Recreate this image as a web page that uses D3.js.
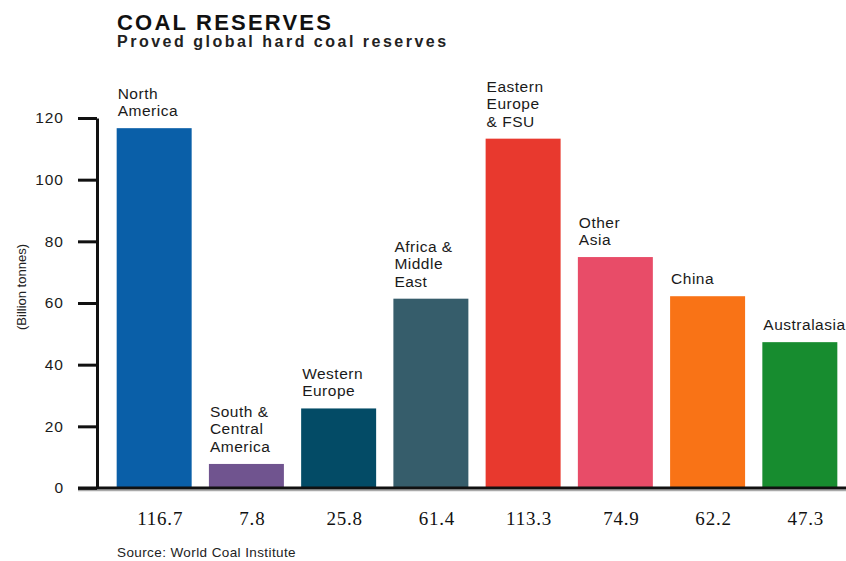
<!DOCTYPE html>
<html>
<head>
<meta charset="utf-8">
<script src="https://cdn.jsdelivr.net/npm/d3@7"></script>
<style>
  body { margin: 0; background: #fff; }
  svg text { font-family: "Liberation Sans", Arial, sans-serif; }
</style>
</head>
<body>
<div id="chart"></div>
<script>
// data
const categories = ["North\nAmerica", "South &\nCentral\nAmerica", "Western\nEurope",
    "Africa &\nMiddle\nEast", "Eastern\nEurope\n& FSU", "Other\nAsia", "China", "Australasia"];
const values = [116.7, 7.8, 25.8, 61.4, 113.3, 74.9, 62.2, 47.3];
const valueLabels = ["116.7", "7.8", "25.8", "61.4", "113.3", "74.9", "62.2", "47.3"];
const barColors = ["#0a5fa8", "#70548f", "#034b66", "#365d6b", "#e8392e", "#e84c68", "#f97316", "#178c2f"];
const yTicks = [0, 20, 40, 60, 80, 100, 120];

function drawChart() {
    const width = 846;
    const height = 561;

    const svg = d3.select("#chart")
        .append("svg")
        .attr("width", width)
        .attr("height", height);

    const x = d3.scaleBand()
        .domain(d3.range(categories.length))
        .range([108, 846])
        .paddingInner(0.187)
        .paddingOuter(0.094);

    const y = d3.scaleLinear()
        .domain([0, 120])
        .range([488, 118]);

    // titles
    svg.append("text")
        .attr("x", 117).attr("y", 30)
        .style("font-size", "22px").style("font-weight", "bold")
        .style("letter-spacing", "2.2px")
        .attr("fill", "#111")
        .text("COAL RESERVES");

    svg.append("text")
        .attr("x", 117).attr("y", 47)
        .style("font-size", "16px").style("font-weight", "bold")
        .style("letter-spacing", "2.5px")
        .attr("fill", "#222")
        .text("Proved global hard coal reserves");

    // bars
    svg.append("g")
        .selectAll("rect")
        .data(values)
        .join("rect")
        .attr("x", (d, i) => x(i))
        .attr("y", d => y(d))
        .attr("width", x.bandwidth())
        .attr("height", d => y(0) - y(d))
        .attr("fill", (d, i) => barColors[i]);

    // category labels above the bars
    const lab = svg.append("g")
        .selectAll("text")
        .data(categories)
        .join("text")
        .attr("x", (d, i) => x(i) + 1)
        .attr("y", (d, i) => y(values[i]) - 12)
        .style("font-size", "15.5px")
        .style("letter-spacing", "0.5px")
        .attr("fill", "#1a1a1a");

    lab.each(function (d) {
        const lines = d.split("\n");
        const n = lines.length;
        d3.select(this).selectAll("tspan")
            .data(lines)
            .join("tspan")
            .attr("x", d3.select(this).attr("x"))
            .attr("dy", (l, j) => j === 0 ? -(n - 1) * 17.5 : 17.5)
            .text(l => l);
    });

    // y axis
    const yAxis = svg.append("g")
        .attr("transform", "translate(97,0)")
        .call(d3.axisLeft(y)
            .tickValues(yTicks)
            .tickSize(19)
            .tickSizeOuter(0)
            .tickPadding(14));

    yAxis.select(".domain")
        .attr("stroke", "#111")
        .attr("stroke-width", 3);
    yAxis.selectAll(".tick line")
        .attr("stroke", "#111")
        .attr("stroke-width", 3);
    yAxis.selectAll(".tick text")
        .attr("fill", "#1a1a1a")
        .style("font-size", "15.5px")
        .style("letter-spacing", "1px")
        .style("font-family", "'Liberation Sans', Arial, sans-serif");

    svg.append("text")
        .attr("transform", "translate(26,287) rotate(-90)")
        .attr("text-anchor", "middle")
        .style("font-size", "13px")
        .attr("fill", "#222")
        .text("(Billion tonnes)");

    // baseline
    svg.append("line")
        .attr("x1", 78).attr("x2", width)
        .attr("y1", y(0) + 2.5).attr("y2", y(0) + 2.5)
        .attr("stroke", "#aaa").attr("stroke-width", 1.5);
    svg.append("line")
        .attr("x1", 78).attr("x2", width)
        .attr("y1", y(0)).attr("y2", y(0))
        .attr("stroke", "#111").attr("stroke-width", 3);

    // value labels under the axis
    svg.append("g")
        .selectAll("text")
        .data(valueLabels)
        .join("text")
        .attr("x", (d, i) => x(i) + x.bandwidth() / 2 + 6)
        .attr("y", 525)
        .attr("text-anchor", "middle")
        .style("font-family", "'Liberation Serif', 'Times New Roman', serif")
        .style("font-size", "19px")
        .style("letter-spacing", "0.8px")
        .attr("fill", "#111")
        .text(d => d);

    svg.append("text")
        .attr("x", 117).attr("y", 557)
        .style("font-size", "13.5px")
        .style("letter-spacing", "0.4px")
        .attr("fill", "#222")
        .text("Source: World Coal Institute");
}

drawChart();
</script>
</body>
</html>
